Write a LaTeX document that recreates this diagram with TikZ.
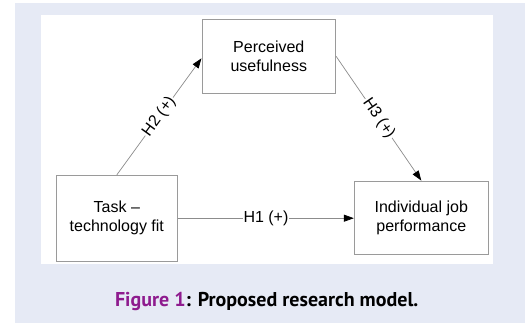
\documentclass[tikz,border=0pt]{standalone}
\usepackage{fontspec}
\setmainfont{Liberation Sans}
\newfontfamily\capfont{PT Sans}
\usetikzlibrary{arrows.meta,calc}
\definecolor{bgblue}{HTML}{E6EAF5}
\definecolor{figpurple}{HTML}{8E1B8E}
\definecolor{boxgray}{HTML}{9A9A9A}
\definecolor{linegray}{HTML}{8C8C8C}
\tikzset{
  modelbox/.style={draw=boxgray, line width=0.9pt, fill=white, align=center,
    font=\fontsize{16}{19}\selectfont, inner sep=0pt},
  link/.style={draw=linegray, line width=0.7pt,
    -{Triangle[length=10pt,width=7pt,color=black]}},
  hlabel/.style={fill=white, inner sep=1pt, font=\fontsize{16}{19}\selectfont, text=black}
}
\begin{document}
\begin{tikzpicture}[x=1pt,y=-1pt]
\useasboundingbox (0,0) rectangle (525,323);
\fill[bgblue] (15,3) rectangle (525,323);
\fill[white] (40.7,15) rectangle (492.7,264);
\node[modelbox, minimum width=133.7pt, minimum height=74pt] (pu) at (268.8,56.3) {Perceived\\usefulness};
\node[modelbox, minimum width=121.7pt, minimum height=85.7pt] (ttf) at (116.8,218.2) {Task --\\technology fit};
\node[modelbox, minimum width=134pt, minimum height=73.3pt] (ijp) at (421.3,217.7) {Individual job\\performance};
\draw[link] (ttf.east) -- (ttf.east -| ijp.west) node[hlabel, midway] {H1 (+)};
\draw[link] (ttf.north) -- ([yshift=-2pt]pu.west) node[hlabel, midway, sloped] {H2 (+)};
\draw[link] (pu.east) -- (ijp.north) node[hlabel, midway, sloped] {H3 (+)};
\node[font=\capfont\bfseries\fontsize{20}{24}\selectfont, anchor=base, inner sep=0pt] (cap) at (266.7,306.5)
  {\textcolor{figpurple}{Figure 1}: Proposed research model.};
\end{tikzpicture}
\end{document}
